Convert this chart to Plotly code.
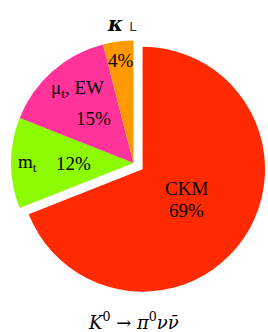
import plotly.graph_objects as go

labels = ["CKM", "m<sub>t</sub>", "μ<sub>t</sub>, EW", "κ<sub>L</sub>"]
values = [69, 12, 15, 4]
colors = ["#FF2A00", "#8CFA00", "#FF3399", "#FF9900"]
pulls = [0.09, 0, 0, 0]

fig = go.Figure(go.Pie(
    labels=labels, values=values, sort=False, direction="clockwise", rotation=0,
    marker=dict(colors=colors, line=dict(width=0)),
    pull=pulls, textinfo="none", hoverinfo="label+percent",
    domain=dict(x=[0, 0.996], y=[0.1069, 0.9111]),
    showlegend=False,
))

serif = "Liberation Serif, Times New Roman, serif"
pct = [f"{v}%" for v in values]
ann = [
    dict(x=186, y=188, text="CKM", size=19),
    dict(x=186, y=210, text=pct[0], size=19),
    dict(x=27, y=163, text="m<sub>t</sub>", size=19),
    dict(x=73, y=163, text=pct[1], size=19),
    dict(x=77, y=89, text="μ<sub>t</sub>, EW", size=19),
    dict(x=93, y=118, text=pct[2], size=19),
    dict(x=121, y=60, text=pct[3], size=19),
]
annotations = []
for a in ann:
    annotations.append(dict(
        x=a["x"] / 268, y=1 - a["y"] / 332, xref="paper", yref="paper",
        text=a["text"], showarrow=False, xanchor="center", yanchor="middle",
        font=dict(family=serif, size=a["size"], color="black"),
    ))
annotations.append(dict(
    x=122 / 268, y=1 - 24 / 332, xref="paper", yref="paper", showarrow=False,
    xanchor="center", yanchor="middle",
    text="<b><i>κ</i></b> <span style='font-size:13px;font-family:DejaVu Sans;color:#333'>L</span>",
    font=dict(family="DejaVu Serif", size=20, color="black"),
))
annotations.append(dict(
    x=133 / 268, y=1 - 321 / 332, xref="paper", yref="paper", showarrow=False,
    xanchor="center", yanchor="middle",
    text="<i>K</i><sup>0</sup> → <i>π</i><sup>0</sup><i>ν</i><i>ν̄</i>",
    font=dict(family="DejaVu Serif", size=18, color="black"),
))

fig.update_layout(
    width=268, height=332, margin=dict(l=0, r=0, t=0, b=0),
    paper_bgcolor="white", plot_bgcolor="white",
    annotations=annotations,
)
fig.write_html("out.html", config={"displayModeBar": False},
               post_script="document.body.style.margin='0';document.body.style.overflow='hidden';")
